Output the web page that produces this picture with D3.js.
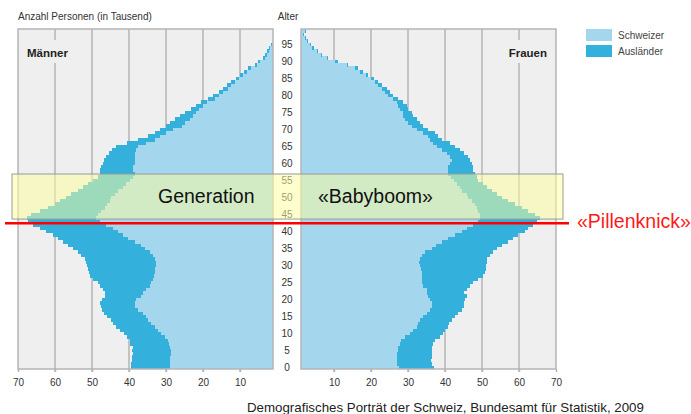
<!DOCTYPE html>
<html><head><meta charset="utf-8">
<script src="https://cdn.jsdelivr.net/npm/d3@7"></script>
<style>
body{margin:0;background:#fff}
svg{display:block}
text{font-family:"Liberation Sans",Arial,sans-serif}
</style>
</head><body>
<svg id="c" width="691" height="414"></svg>
<script>
// ---------- data (in thousands) ----------
const ages = d3.range(0, 100);
const menSwiss = [
 29.0,29.0,29.0,28.8,28.6,28.6,28.8,29.3,29.5,30.4,
 31.3,32.2,33.0,34.0,34.9,35.3,36.2,37.6,38.5,38.5,
 38.0,36.8,36.2,35.4,34.4,34.0,33.5,33.2,33.0,32.9,
 32.7,32.7,32.9,33.5,34.4,35.8,36.7,38.5,40.3,41.6,
 43.0,44.3,46.1,47.9,48.8,48.4,47.5,46.6,45.9,45.2,
 44.8,43.9,43.0,41.6,40.7,39.8,38.9,38.5,38.9,38.9,
 38.5,38.5,38.5,38.3,38.0,37.5,35.5,33.0,31.5,30.0,
 28.0,25.8,24.8,23.5,22.8,22.0,21.0,20.0,18.8,16.8,
 15.8,14.5,13.2,12.3,11.4,10.3,9.2,8.1,6.9,5.3,
 4.5,3.2,2.7,2.2,1.8,1.3,1.0,0.7,0.5,0.4];
const menForeign = [
 10.5,10.5,10.3,10.5,10.4,10.6,10.2,10.3,10.3,10.1,
 10.1,10.3,10.6,10.3,10.1,10.6,10.6,9.7,9.1,9.3,
 9.2,9.8,10.4,11.6,13.5,14.4,16.2,17.4,17.8,18.2,
 18.6,18.8,19.1,19.4,19.4,19.3,19.8,19.3,18.9,18.9,
 19.3,19.8,19.8,19.4,18.9,18.0,16.6,15.3,14.2,13.5,
 12.1,11.7,10.8,10.8,10.4,9.9,9.5,9.4,9.0,8.8,
 8.5,8.3,7.7,7.0,6.5,6.0,5.0,4.5,3.5,3.0,
 3.5,4.2,4.2,4.0,3.4,2.8,2.2,2.0,1.7,1.8,
 1.4,1.3,1.4,1.1,0.9,0.9,0.9,0.9,0.9,0.7,
 0.6,0.6,0.5,0.4,0.4,0.3,0.2,0.2,0.1,0.1];
const womenSwiss = [
 27.6,26.9,26.9,26.9,26.9,27.2,27.4,27.8,28.1,29.2,
 30.5,31.4,32.3,32.8,33.2,34.1,35.0,35.9,36.4,36.4,
 35.9,35.5,35.0,35.0,34.1,33.7,33.7,33.7,33.9,33.5,
 33.2,33.0,33.2,33.7,34.6,36.4,37.7,39.1,40.9,42.7,
 44.5,45.9,47.7,49.0,49.5,49.5,49.0,48.6,48.1,47.2,
 46.3,45.9,44.5,44.1,43.2,42.3,41.6,40.9,40.7,40.9,
 41.4,41.8,41.4,40.5,39.1,37.8,36.8,35.9,35.5,34.1,
 32.3,31.0,30.1,29.2,28.7,28.7,27.8,27.4,26.9,26.0,
 24.7,23.8,22.9,22.0,21.1,20.0,18.6,17.0,15.7,13.4,
 10.3,8.0,6.5,5.3,4.1,3.5,2.6,2.2,1.7,2.2];
const womenForeign = [
 9.5,9.7,9.3,9.6,9.5,9.2,9.1,9.0,9.2,9.4,
 9.0,8.6,8.4,8.3,8.6,8.6,8.6,8.6,8.6,8.6,
 9.5,10.4,10.0,10.9,12.7,14.0,15.3,16.7,16.9,17.5,
 17.9,18.4,18.2,18.5,18.5,17.6,17.6,18.0,17.6,17.1,
 17.1,16.6,16.2,15.8,16.2,14.8,13.5,12.1,10.8,9.9,
 9.0,8.1,8.1,7.2,7.2,6.7,7.0,7.2,7.0,6.8,
 5.8,5.0,4.9,4.5,5.0,4.9,4.6,3.2,2.7,3.2,
 3.2,3.1,3.1,3.1,2.7,2.3,2.3,2.2,1.8,1.4,
 1.3,1.3,1.3,1.1,0.9,0.9,0.7,0.9,0.7,0.5,
 0.7,0.4,0.3,0.4,0.5,0.3,0.4,0.2,0.2,0.3];
const xTicks = [10, 20, 30, 40, 50, 60, 70];
const ageTicks = [0, 5, 10, 15, 20, 25, 30, 35, 40, 45, 50, 55, 60, 65, 70, 75, 80, 85, 90, 95];
const seriesNames = ["Schweizer", "Ausländer"];
const colors = ["#a4d6ee", "#33b1dc"];
const boomAges = [44.1, 57.35];   // highlighted band (age range)
const pillAge = 42.85;            // "Pillenknick" marker

// ---------- layout ----------
const svg = d3.select("#c");
const yTop = 29, yBot = 369;
const y = d3.scaleLinear().domain([0, 100]).range([yBot, yTop]);
const xL = d3.scaleLinear().domain([0, 70]).range([277, 18]);
const xR = d3.scaleLinear().domain([0, 70]).range([297, 556]);
const gridCol = "#b5b5b5", bgCol = "#efefef";

const panels = [
  {id: "L", x: xL, x0: 18, x1: 273, s: menSwiss, f: menForeign},
  {id: "R", x: xR, x0: 301, x1: 556, s: womenSwiss, f: womenForeign}
];

const defs = svg.append("defs");
panels.forEach(p => {
  defs.append("clipPath").attr("id", "clip" + p.id)
    .append("rect").attr("x", p.x0).attr("y", yTop).attr("width", p.x1 - p.x0).attr("height", yBot - yTop);
  const g = svg.append("g");
  g.append("rect").attr("x", p.x0).attr("y", yTop).attr("width", p.x1 - p.x0).attr("height", yBot - yTop)
    .attr("fill", bgCol);
  g.selectAll("line.grid").data(xTicks.filter(t => t < 70)).join("line")
    .attr("x1", d => p.x(d)).attr("x2", d => p.x(d))
    .attr("y1", yTop).attr("y2", yBot + 3)
    .attr("stroke", gridCol).attr("stroke-width", 1.5);
  const bars = g.append("g").attr("clip-path", `url(#clip${p.id})`).attr("shape-rendering", "crispEdges");
  const rect = (a, v0, v1) => {
    const xa = p.x(v0), xb = p.x(v1);
    return {x: Math.min(xa, xb), w: Math.abs(xb - xa), y: y(a + 1), h: y(a) - y(a + 1) + 0.4};
  };
  ages.forEach((a, i) => {
    const r1 = rect(a, 0, p.s[i]);
    bars.append("rect").attr("x", r1.x).attr("y", r1.y).attr("width", r1.w).attr("height", r1.h).attr("fill", colors[0]);
    const r2 = rect(a, p.s[i], p.s[i] + p.f[i]);
    bars.append("rect").attr("x", r2.x).attr("y", r2.y).attr("width", r2.w).attr("height", r2.h).attr("fill", colors[1]);
  });
  g.append("rect").attr("x", p.x0).attr("y", yTop).attr("width", p.x1 - p.x0).attr("height", yBot - yTop)
    .attr("fill", "none").attr("stroke", gridCol).attr("stroke-width", 1.5);
  // bottom axis
  const ax = svg.append("g").attr("transform", `translate(0,${yBot})`)
    .call(d3.axisBottom(p.x).tickValues(xTicks).tickSize(3).tickPadding(7));
  ax.select(".domain").remove();
  ax.selectAll(".tick line").attr("stroke", gridCol).attr("stroke-width", 1.5);
  ax.selectAll("text").attr("font-size", 10).attr("fill", "#333").attr("font-family", "Liberation Sans, Arial, sans-serif");
});

// panel labels with background
svg.append("rect").attr("x", 24).attr("y", 40).attr("width", 50).attr("height", 23).attr("fill", bgCol);
svg.append("text").attr("x", 27).attr("y", 57).attr("font-size", 11.5).attr("font-weight", "bold").attr("fill", "#222").text("Männer");
svg.append("rect").attr("x", 508).attr("y", 40).attr("width", 44).attr("height", 23).attr("fill", bgCol);
svg.append("text").attr("x", 547).attr("y", 57).attr("text-anchor", "end").attr("font-size", 11.5).attr("font-weight", "bold").attr("fill", "#222").text("Frauen");

// age labels
svg.append("g").selectAll("text").data(ageTicks).join("text")
  .attr("x", 287).attr("y", d => y(d + 0.5)).attr("dy", "0.35em")
  .attr("text-anchor", "middle").attr("font-size", 10).attr("fill", "#333").text(d => d);

// titles
svg.append("text").attr("x", 18).attr("y", 20).attr("font-size", 10).attr("fill", "#333").text("Anzahl Personen (in Tausend)");
svg.append("text").attr("x", 288).attr("y", 20).attr("text-anchor", "middle").attr("font-size", 10).attr("fill", "#333").text("Alter");

// legend
const leg = svg.append("g");
seriesNames.forEach((n, i) => {
  leg.append("rect").attr("x", 586).attr("y", 29 + i * 16).attr("width", 26).attr("height", 12).attr("fill", colors[i]);
  leg.append("text").attr("x", 618).attr("y", 35 + i * 16).attr("dy", "0.35em").attr("font-size", 10).attr("fill", "#444").text(n);
});

// highlight box: Babyboom
svg.append("rect").attr("x", 12).attr("y", y(boomAges[1])).attr("width", 551).attr("height", y(boomAges[0]) - y(boomAges[1]))
  .attr("fill", "rgba(255,255,160,0.52)").attr("stroke", "#9a9a9a").attr("stroke-width", 1);
svg.append("text").attr("x", 158).attr("y", 203).attr("font-size", 19.5).attr("fill", "#111").text("Generation");
svg.append("text").attr("x", 318).attr("y", 203).attr("font-size", 19.5).attr("fill", "#111").text("«Babyboom»");

// Pillenknick line
svg.append("line").attr("x1", 5).attr("x2", 569).attr("y1", y(pillAge)).attr("y2", y(pillAge))
  .attr("stroke", "#ff0000").attr("stroke-width", 2.5);
svg.append("text").attr("x", 577).attr("y", 228).attr("font-size", 19.5).attr("fill", "#ff1a1a").text("«Pillenknick»");

// source
svg.append("text").attr("x", 247).attr("y", 411.5).attr("font-size", 13.3).attr("fill", "#222")
  .text("Demografisches Porträt der Schweiz, Bundesamt für Statistik, 2009");
</script>
</body></html>
